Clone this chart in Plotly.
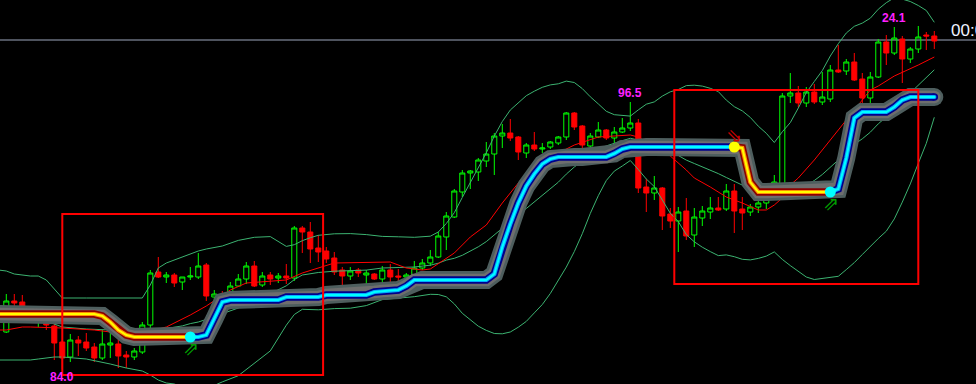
import plotly.graph_objects as go

# ---------------- data (price units = chart height units) ----------------
bar_idx = list(range(117))
opens = [52,83,82,75,62,64,58,42,27,44,42,37,26,39,40,29,27,32,59,112,
         107,109,102,107,107,119,87,90,87,98,105,118,99,109,106,108,106,156,152,136,
         133,126,114,108,114,109,110,105,114,108,107,108,116,121,127,147,167,192,211,212,
         223,230,248,251,247,231,239,235,237,241,247,271,258,238,247,254,246,252,256,261,
         197,191,196,170,163,173,149,166,172,176,175,193,175,172,177,181,198,197,288,291,
         281,292,282,285,314,313,322,305,286,307,342,331,345,325,335,349,348]
highs = [90,90,89,77,67,66,61,44,50,48,51,41,54,52,46,33,36,62,114,127,
         112,111,107,117,131,121,94,93,102,110,122,123,112,112,111,120,158,158,162,149,
         137,132,117,117,116,114,111,118,120,115,111,123,125,134,152,172,195,214,214,226,
         242,251,260,265,248,241,252,241,243,248,272,272,259,251,262,255,257,266,282,265,
         205,208,197,176,177,186,176,178,187,187,200,200,187,180,187,201,209,291,311,298,
         297,300,312,319,339,325,331,311,312,345,349,357,348,337,358,352,353]
lows = [51,71,72,61,57,54,24,15,22,28,33,22,24,26,16,16,24,30,52,106,
        101,97,94,104,105,83,82,84,86,97,100,97,97,99,101,100,103,131,121,122,
        121,109,98,104,107,99,104,102,100,102,103,107,114,118,126,134,166,187,195,203,
        217,209,236,243,224,226,233,231,235,239,244,254,232,233,246,244,232,251,253,191,
        172,184,154,156,132,144,137,158,165,173,173,151,154,168,171,175,184,196,281,277,
        277,280,279,282,311,309,303,269,274,306,319,329,301,321,331,334,335]
closes = [83,81,75,62,63,59,41,26,44,41,36,26,40,41,28,27,33,59,111,107,
          109,101,107,108,118,88,90,87,98,105,118,98,108,105,108,106,156,152,135,132,
          125,112,108,113,111,111,105,114,107,107,109,116,121,127,148,168,193,211,213,224,
          230,248,251,246,232,239,235,236,242,247,271,257,239,248,254,246,252,256,261,196,
          191,196,168,163,172,148,167,173,176,174,193,173,171,177,181,198,202,288,291,281,
          292,282,287,314,312,322,304,286,307,342,331,346,325,335,347,348,343]

# Bollinger bands
bb_idx = [-1,0,1,2,3,4,5,6,7,10,13,15,17,18,19,20,21,22,23,24,25,27,29,31,33,35,36,37,38,39,
          41,43,45,47,49,51,53,54,55,56,57,58,59,60,61,62,63,64,65,66,67,68,69,70,71,72,73,74,
          75,76,77,78,79,80,81,82,83,84,85,86,87,88,89,90,91,92,93,94,95,96,97,98,99,100,101,
          102,103,104,105,106,107,108,109,110,111,112,113,114,115,116]
bb_upper = [114,113,110,109,108,108,104,95,86,86,86,86,86,99,116,121,124,127,130,133,135,138,143.6,146.7,147.4,137.6,139.3,143.3,146.3,148.7,
            150.2,150.4,149.4,147.6,147.2,146.7,147.8,152,160.5,171.3,186.6,201.2,216.6,231.2,247.9,262.5,274,281.3,288.3,292.8,296.7,299.1,300.2,302.9,301.5,295.4,287.2,280.1,
            272.7,269.3,268.6,267.9,274.1,279.8,282.1,287.9,292.2,294.5,298.4,298.8,297.9,295.7,292.4,283.9,277.3,273.1,266.6,257.8,250.7,241.5,252.2,261.4,276,291.4,302.5,
            313.4,328,340.3,351,357.7,360.9,365.8,374.8,381.3,386.3,384.9,382.5,378.5,373.5,361.7]
bb_mid = [70,69,68,67,66,66,63,60,57,55,54,52,50,51,54.2,55.5,56.5,58.1,60.4,62,64.6,70.1,76,83.7,90.3,98.2,104.4,109,110.2,111.5,
          112.8,113.1,113.9,116,116.6,117,118.8,120.8,123.9,125.7,128.7,132.6,137.2,142.4,149.2,156.4,163,169.1,175.5,182,188.1,194.8,201.8,209.9,217,222.9,228.9,234.2,
          238.1,241.1,243.3,245.7,244.3,242.4,239.8,235.6,231.5,228.5,223.9,220.5,217.4,214.1,210.4,206.5,202.3,198.9,195.4,191.7,189.3,186.8,188.4,189.9,194.2,199.2,203.5,
          209.5,217,224,232.7,239.6,245.2,251.8,260.2,267.1,275.7,283.4,291.3,299.6,307.1,314.2]
bb_lower = [24,24,24,24,24,25,26,27,27,25,20,16,13,9,4,1,0,-3,-4,-5,-5,2.1,8.3,20.6,33.1,58.8,69.5,74.7,74.1,74.2,
            75.4,75.8,78.4,84.4,85.9,87.3,89.7,89.5,87.2,80.1,70.7,63.9,57.8,53.6,50.5,50.2,52,56.8,62.6,71.1,79.5,90.5,103.4,116.9,132.4,150.3,170.6,188.3,
            203.5,212.9,218,223.5,214.5,205,197.4,183.3,170.7,162.4,149.4,142.2,136.8,132.4,128.4,129.1,127.3,124.7,124.1,125.6,127.9,132.1,124.6,118.4,112.3,107,104.5,
            105.5,106,107.7,114.4,121.4,129.5,137.7,145.5,152.8,165.1,181.9,200.1,220.7,240.7,266.7]

# red moving average
ma_idx = [-1,0,2,3,7,11,13,17,20,23,25,28,30,35,37,40,41,48,50,52,53,56,58,60,62,64,65,68,71,74,
          78,79,83,85,86,88,90,92,94,95,96,97,98,99,101,103,105,107,108,109,111,114,116]
ma_val = [54,54,57,57,56,54,52,51,57,69,78,94,101,104,111,119,121,122,116,114,115,131,147,159,181,201,211,227,239,247,
          249,247,228,214,206,197,187,181,174,174,179,186,199,206,224,244,264,284,294,298,308,319,327]

# stepped trend line
band_idx = list(range(-1, 117))
band_val = [70, 70,70,70,70,70,70,70,70,70,70,70,70, 68,62,54,49,
            47,47,47,47,47,47,47,47,47, 49,65,82, 84,84,84,84,84,84,84,
            87,87,87,87,87, 89,89,89,89,89,89, 92,93,93.5,94,98,
            104,104,104,104,104,104,104,104,104,104,
            110,137,160,181,198,210,220,225, 227,227,227,227,227,227,227, 230.5,235,
            237,237,237,237,237,237,237,237,237,237,237,237,237,237, 236,202,
            192,192,192,192,192,192,192,192,192,192, 195,226,266, 272,272,272,272, 277,284,
            287,287,287,287]
switch_idx = [23, 91, 103]
first_trend = 'dn'

label_idx = [7, 78, 111]
label_text = ['84.0', '96.5', '24.1']
label_side = ['low', 'high', 'high']

box_x0 = [7, 83.5]
box_x1 = [39.6, 114]
box_top = [170, 294]
box_bot = [9, 100]

hline_level = 344
time_text = '00:00'

assert len(band_val) == len(band_idx)
assert len(bb_idx) == len(bb_upper) == len(bb_mid) == len(bb_lower)
assert len(opens) == len(highs) == len(lows) == len(closes) == 117

# ---------------- figure ----------------
fig = go.Figure()

BB_COLOR = '#3cb371'
for vals in (bb_upper, bb_mid, bb_lower):
    fig.add_trace(go.Scatter(x=bb_idx, y=vals, mode='lines',
                             line=dict(color=BB_COLOR, width=1), hoverinfo='skip'))
fig.add_trace(go.Scatter(x=ma_idx, y=ma_val, mode='lines',
                         line=dict(color='#ff0000', width=1), hoverinfo='skip'))

# trend band layers
pos = {b: k for k, b in enumerate(band_idx)}
bounds = [band_idx[0]] + switch_idx + [band_idx[-1]]
segs = []
tr = first_trend
for a, b in zip(bounds[:-1], bounds[1:]):
    segs.append((a, b, tr))
    tr = 'up' if tr == 'dn' else 'dn'

def add_layer(xs, ys, color, width, cap=True):
    fig.add_trace(go.Scatter(x=xs, y=ys, mode='lines',
                             line=dict(color=color, width=width), hoverinfo='skip'))
    if cap:
        fig.add_trace(go.Scatter(x=[xs[-1]], y=[ys[-1]], mode='markers',
                                 marker=dict(color=color, size=width, line=dict(width=0)),
                                 hoverinfo='skip'))

add_layer(band_idx, band_val, '#4e5e5e', 18)
add_layer(band_idx, band_val, '#6e6e6e', 12.5)
colors = {'dn': ['#8b0000', '#ff8c00', '#ffff00'], 'up': ['#00008b', '#00aaff', '#00ffff']}
widths = [7.5, 4.2, 2.0]
for a, b, t in segs:
    xs = band_idx[pos[a]:pos[b] + 1]
    ys = band_val[pos[a]:pos[b] + 1]
    for c, w in zip(colors[t], widths):
        add_layer(xs, ys, c, w, cap=(b == band_idx[-1]))

# candles
fig.add_trace(go.Candlestick(
    x=bar_idx, open=opens, high=highs, low=lows, close=closes,
    increasing=dict(line=dict(color='#00ff00', width=1), fillcolor='rgba(0,0,0,0)'),
    decreasing=dict(line=dict(color='#ff0000', width=1), fillcolor='#ff0000'),
    whiskerwidth=0, hoverinfo='skip'))

annotations = []

# switch dots and arrows
t = first_trend
for s in switch_idx:
    t = 'up' if t == 'dn' else 'dn'
    v = band_val[pos[s]]
    fig.add_trace(go.Scatter(x=[s], y=[v], mode='markers',
                             marker=dict(color='#00ffff' if t == 'up' else '#ffff00', size=11,
                                         line=dict(width=0)), hoverinfo='skip'))
    if t == 'up':
        annotations.append(dict(x=s, y=v, text='⇗', showarrow=False, xanchor='center',
                                yanchor='middle', yshift=-11, xshift=1,
                                font=dict(family='DejaVu Sans', size=19, color='#00a000')))
    else:
        annotations.append(dict(x=s, y=v, text='⇘', showarrow=False, xanchor='center',
                                yanchor='middle', yshift=12, xshift=0,
                                font=dict(family='DejaVu Sans', size=19, color='#cc0000')))

shapes = [dict(type='line', xref='paper', x0=0, x1=1, yref='y', y0=hline_level, y1=hline_level,
               line=dict(color='#9ca6bc', width=1), layer='below')]
for x0, x1, yt, yb in zip(box_x0, box_x1, box_top, box_bot):
    shapes.append(dict(type='rect', xref='x', yref='y', x0=x0, x1=x1, y0=yb, y1=yt,
                       line=dict(color='#ff0000', width=2), fillcolor='rgba(0,0,0,0)', layer='above'))

for i, txt, side in zip(label_idx, label_text, label_side):
    if side == 'high':
        annotations.append(dict(x=i, y=highs[i], text='<b>%s</b>' % txt, showarrow=False,
                                yanchor='bottom', yshift=0,
                                font=dict(family='Liberation Sans, Arial', size=12, color='#ff20ff')))
    else:
        annotations.append(dict(x=i, y=lows[i], text='<b>%s</b>' % txt, showarrow=False,
                                yanchor='top', yshift=1,
                                font=dict(family='Liberation Sans, Arial', size=12, color='#ff20ff')))
annotations.append(dict(xref='paper', yref='paper', x=949 / 976, y=1 - 30 / 384, text=time_text,
                        showarrow=False, xanchor='left', yanchor='middle',
                        font=dict(family='Liberation Sans, Arial', size=17, color='#eef3ff')))

fig.update_layout(
    width=976, height=384, margin=dict(l=0, r=0, t=0, b=0, pad=0),
    paper_bgcolor='black', plot_bgcolor='black', showlegend=False,
    xaxis=dict(visible=False, range=[-0.7875, 121.2125], rangeslider=dict(visible=False), fixedrange=True),
    yaxis=dict(visible=False, range=[0, 384], fixedrange=True),
    boxgap=0.37, boxgroupgap=0,
    shapes=shapes, annotations=annotations,
)

fig.write_html('out.html')
